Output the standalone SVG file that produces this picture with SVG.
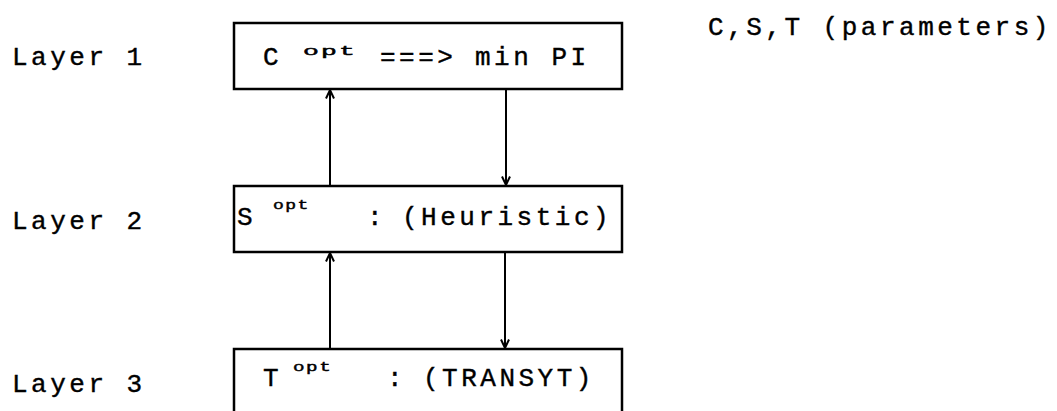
<svg xmlns="http://www.w3.org/2000/svg" width="1057" height="411" viewBox="0 0 1057 411">
<style>
.t{font-family:"Courier New","Liberation Mono",monospace;font-size:26px;letter-spacing:3.5px;fill:#000;stroke:#000;stroke-width:0.4}
.s{font-family:"Courier New","Liberation Mono",monospace;font-size:24px;letter-spacing:2px;fill:#000;stroke:#000;stroke-width:0.8}
.box{fill:#fff;stroke:#000;stroke-width:2.5}
.c{stroke:#000;stroke-width:2;fill:none}
</style>
<defs>
<marker id="ah" viewBox="0 0 10 10" refX="9.5" refY="5" markerWidth="10" markerHeight="10" markerUnits="userSpaceOnUse" orient="auto">
<path d="M1,1 L9.5,5 L1,9" fill="none" stroke="#000" stroke-width="2"/>
</marker>
</defs>
<rect width="1057" height="411" fill="#fff"/>
<g id="labels">
<text class="t" x="12" y="65">Layer 1</text>
<text class="t" x="12" y="229">Layer 2</text>
<text class="t" x="12" y="392">Layer 3</text>
<text class="t" x="708" y="35">C,S,T (parameters)</text>
</g>
<g id="connectors">
<line class="c" x1="330" y1="186" x2="330" y2="90" marker-end="url(#ah)"/>
<line class="c" x1="506" y1="89" x2="506" y2="185" marker-end="url(#ah)"/>
<line class="c" x1="330" y1="349" x2="330" y2="253" marker-end="url(#ah)"/>
<line class="c" x1="505" y1="252" x2="505" y2="348" marker-end="url(#ah)"/>
</g>
<g id="node1">
<rect class="box" x="234" y="23" width="388" height="66"/>
<text class="t" y="65"><tspan x="263">C</tspan><tspan x="380">===&gt;</tspan><tspan x="475">min PI</tspan></text>
<text class="s" transform="translate(303,55) scale(1.1,0.5)">opt</text>
</g>
<g id="node2">
<rect class="box" x="234" y="186" width="388" height="66"/>
<text class="t" y="225"><tspan x="237">S</tspan><tspan x="367">:</tspan><tspan x="402">(Heuristic)</tspan></text>
<text class="s" transform="translate(273,209) scale(0.75,0.5)">opt</text>
</g>
<g id="node3">
<rect class="box" x="234" y="349" width="388" height="80"/>
<text class="t" y="386"><tspan x="263">T</tspan><tspan x="387">:</tspan><tspan x="423">(TRANSYT)</tspan></text>
<text class="s" transform="translate(293,371) scale(0.8,0.5)">opt</text>
</g>
</svg>
